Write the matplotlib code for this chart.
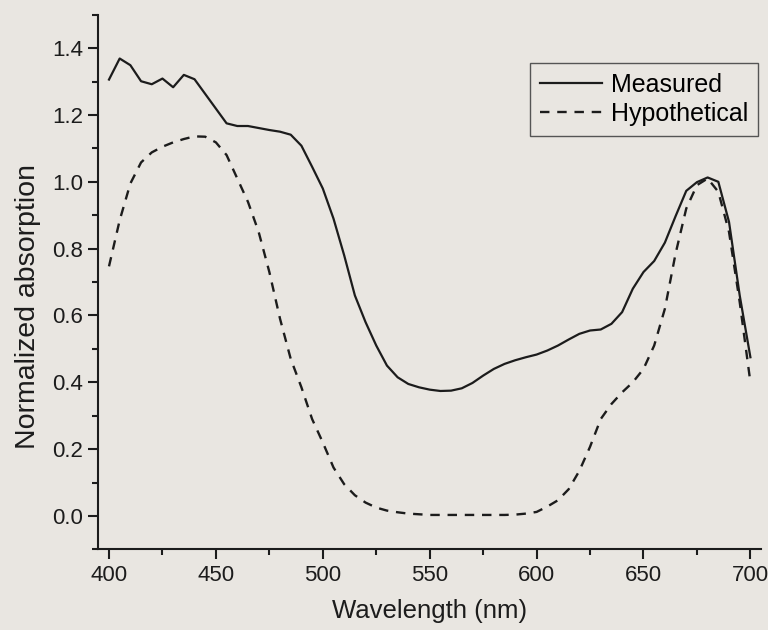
import matplotlib
matplotlib.use("Agg")
import matplotlib.pyplot as plt
from matplotlib.ticker import MultipleLocator

plt.rcParams['font.family'] = ['Liberation Sans', 'DejaVu Sans']

# wavelengths (nm), 5 nm steps
wavelength = list(range(400, 701, 5))

measured = [1.306, 1.369, 1.349, 1.301, 1.292, 1.309, 1.283, 1.320, 1.307, 1.263,
            1.219, 1.175, 1.167, 1.167, 1.161, 1.155, 1.150, 1.141, 1.108, 1.045,
            0.980, 0.890, 0.780, 0.660, 0.580, 0.510, 0.450, 0.415, 0.395, 0.385,
            0.378, 0.374, 0.375, 0.382, 0.398, 0.420, 0.440, 0.455, 0.466, 0.475,
            0.483, 0.495, 0.510, 0.528, 0.545, 0.555, 0.558, 0.575, 0.610, 0.680,
            0.730, 0.763, 0.818, 0.897, 0.973, 0.999, 1.013, 1.000, 0.880, 0.660,
            0.475]

hypothetical = [0.747, 0.885, 0.995, 1.058, 1.088, 1.105, 1.118, 1.128, 1.136, 1.135,
                1.118, 1.080, 1.010, 0.940, 0.850, 0.730, 0.590, 0.470, 0.385, 0.290,
                0.220, 0.145, 0.095, 0.062, 0.040, 0.025, 0.016, 0.011, 0.007, 0.005,
                0.003, 0.003, 0.003, 0.003, 0.003, 0.003, 0.003, 0.003, 0.004, 0.007,
                0.012, 0.028, 0.047, 0.080, 0.135, 0.207, 0.290, 0.335, 0.370, 0.400,
                0.440, 0.510, 0.620, 0.785, 0.920, 0.990, 1.010, 0.970, 0.850, 0.640,
                0.400]

bg = '#e9e6e1'
ink = '#1c1c1c'

fig = plt.figure(figsize=(7.68, 6.3), dpi=100, facecolor=bg)
ax = fig.add_axes([0.128, 0.128, 0.863, 0.8486], facecolor=bg)

ax.plot(wavelength, measured, color=ink, lw=1.6, label='Measured')
ax.plot(wavelength, hypothetical, color=ink, lw=1.7, dashes=(4, 3.3), label='Hypothetical')

ax.set_xlim(395, 705)
ax.set_ylim(-0.1, 1.5)
ax.xaxis.set_major_locator(MultipleLocator(50))
ax.xaxis.set_minor_locator(MultipleLocator(25))
ax.yaxis.set_major_locator(MultipleLocator(0.2))
ax.yaxis.set_minor_locator(MultipleLocator(0.1))
ax.set_xticks(range(400, 701, 50))
ax.set_yticks([0.0, 0.2, 0.4, 0.6, 0.8, 1.0, 1.2, 1.4])
ax.set_yticklabels(['0.0', '0.2', '0.4', '0.6', '0.8', '1.0', '1.2', '1.4'])

for side in ['top', 'right']:
    ax.spines[side].set_visible(False)
for side in ['left', 'bottom']:
    ax.spines[side].set_linewidth(1.5)
    ax.spines[side].set_color(ink)

ax.tick_params(which='major', direction='out', length=7.5, width=1.5, color=ink,
               labelsize=16, labelcolor=ink)
ax.tick_params(which='minor', direction='out', length=4, width=1.5, color=ink)
ax.tick_params(axis='x', pad=4)
ax.tick_params(axis='y', pad=3.5)

ax.set_xlabel('Wavelength (nm)', fontsize=18.5, color=ink, labelpad=9)
ax.set_ylabel('Normalized absorption', fontsize=20.5, color=ink)
ax.yaxis.set_label_coords(-0.087, 0.455)

leg = ax.legend(loc='upper right', bbox_to_anchor=(0.9955, 0.9096), borderaxespad=0,
                fontsize=18, frameon=True, fancybox=False, handlelength=2.5,
                handletextpad=0.35, labelspacing=0.2, borderpad=0.4)
leg.get_frame().set_facecolor(bg)
leg.get_frame().set_edgecolor('#555555')
leg.get_frame().set_linewidth(1.0)
leg.get_frame().set_alpha(1)

fig.savefig('out.png', dpi=100, facecolor=bg)
